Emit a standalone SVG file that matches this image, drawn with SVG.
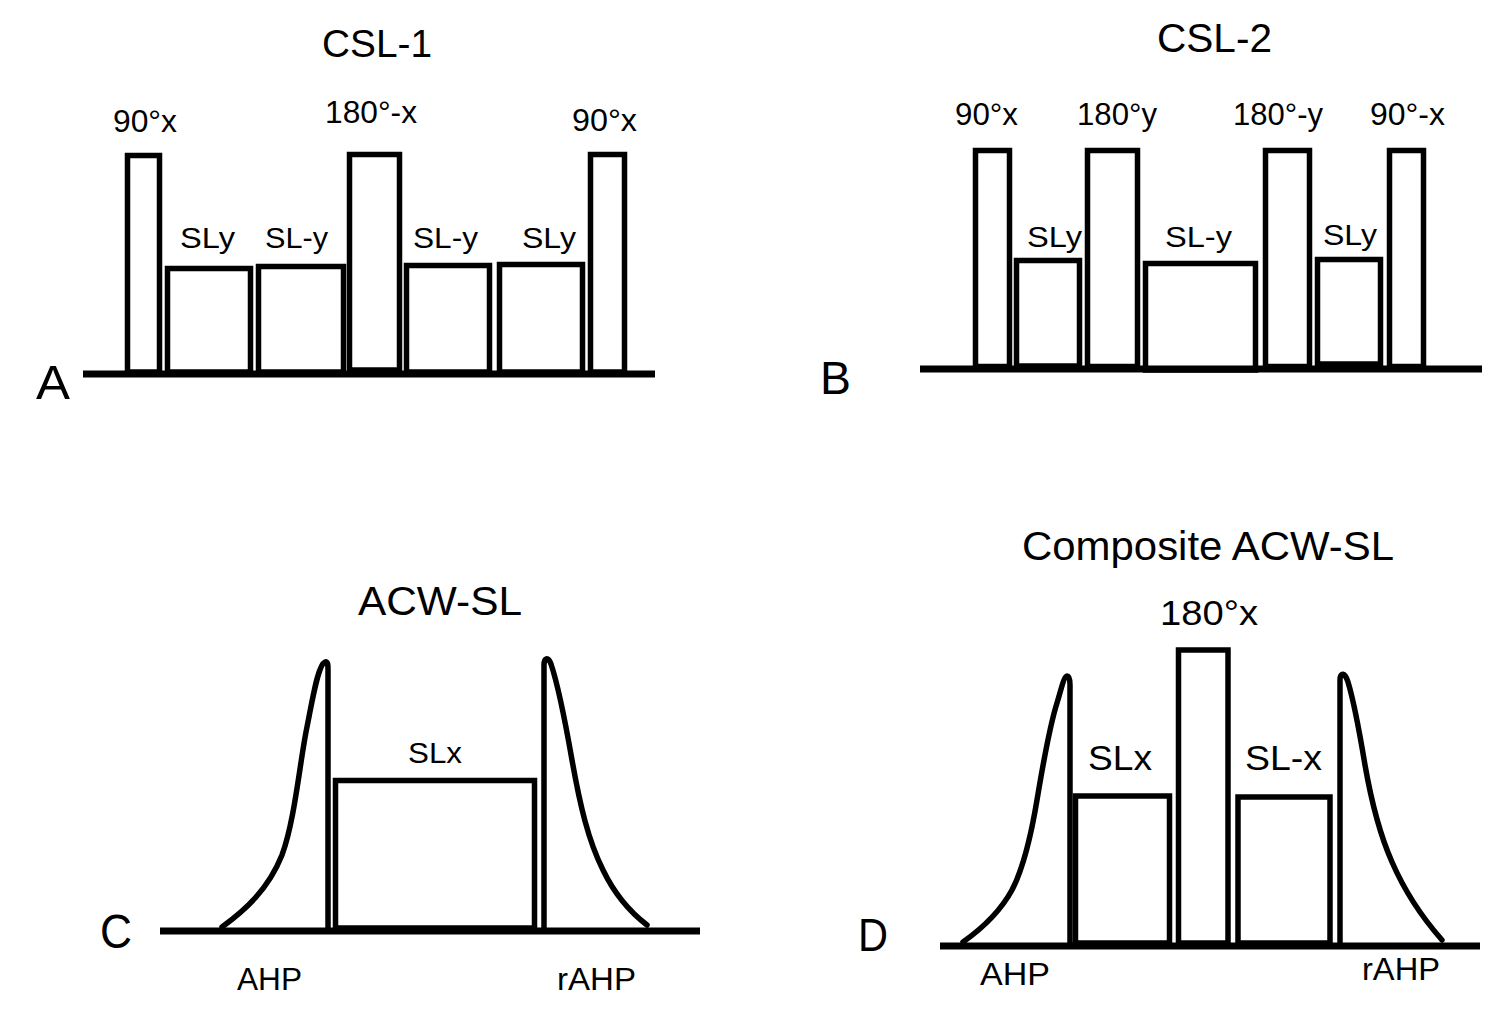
<svg xmlns="http://www.w3.org/2000/svg" width="1501" height="1010" viewBox="0 0 1501 1010">
<style>
.p{fill:none;stroke:#000;stroke-width:5.5;stroke-linejoin:miter}
.c{fill:none;stroke:#000;stroke-width:5.5;stroke-linejoin:round;stroke-linecap:round}
.b{stroke:#000;stroke-width:7;fill:none}
text{font-family:"Liberation Sans",Arial,sans-serif;fill:#000}
</style>
<rect width="1501" height="1010" fill="#fff"/>
<g id="panelA">
<line class="b" x1="83" y1="374" x2="655" y2="374"/>
<rect class="p" x="127.5" y="155.5" width="32" height="216.5"/>
<rect class="p" x="167.5" y="268.5" width="83" height="103.5"/>
<rect class="p" x="258.5" y="266.5" width="85" height="105.5"/>
<rect class="p" x="349.5" y="154.5" width="50" height="215.5"/>
<rect class="p" x="406.5" y="265.5" width="83" height="106.5"/>
<rect class="p" x="499.5" y="264.5" width="83" height="107.5"/>
<rect class="p" x="590.5" y="154.5" width="34" height="217.5"/>
<text x="322" y="57" font-size="39" textLength="110" lengthAdjust="spacingAndGlyphs">CSL-1</text>
<text x="113" y="132" font-size="31" textLength="64" lengthAdjust="spacingAndGlyphs">90°x</text>
<text x="325" y="123" font-size="31" textLength="92" lengthAdjust="spacingAndGlyphs">180°-x</text>
<text x="572" y="131" font-size="31" textLength="65" lengthAdjust="spacingAndGlyphs">90°x</text>
<text x="180" y="248" font-size="30" textLength="55" lengthAdjust="spacingAndGlyphs">SLy</text>
<text x="265" y="248" font-size="30" textLength="63" lengthAdjust="spacingAndGlyphs">SL-y</text>
<text x="413" y="248" font-size="30" textLength="65" lengthAdjust="spacingAndGlyphs">SL-y</text>
<text x="522" y="248" font-size="30" textLength="54" lengthAdjust="spacingAndGlyphs">SLy</text>
<text x="36" y="399" font-size="48" textLength="34" lengthAdjust="spacingAndGlyphs">A</text>
</g>
<g id="panelB">
<line class="b" x1="920" y1="369" x2="1482" y2="369"/>
<rect class="p" x="975.5" y="150.5" width="34" height="216"/>
<rect class="p" x="1016.5" y="260.5" width="63" height="105.5"/>
<rect class="p" x="1087.5" y="150.5" width="50" height="216"/>
<rect class="p" x="1145.5" y="263.5" width="110" height="106.5"/>
<rect class="p" x="1265.5" y="150.5" width="44" height="216"/>
<rect class="p" x="1317.5" y="259.5" width="63" height="104.5"/>
<rect class="p" x="1389.5" y="150.5" width="34" height="216"/>
<text x="1157" y="52" font-size="40" textLength="115" lengthAdjust="spacingAndGlyphs">CSL-2</text>
<text x="955" y="125" font-size="31" textLength="63" lengthAdjust="spacingAndGlyphs">90°x</text>
<text x="1077" y="125" font-size="31" textLength="80" lengthAdjust="spacingAndGlyphs">180°y</text>
<text x="1233" y="125" font-size="31" textLength="90" lengthAdjust="spacingAndGlyphs">180°-y</text>
<text x="1370" y="125" font-size="31" textLength="75" lengthAdjust="spacingAndGlyphs">90°-x</text>
<text x="1027" y="247" font-size="30" textLength="55" lengthAdjust="spacingAndGlyphs">SLy</text>
<text x="1165" y="247" font-size="30" textLength="67" lengthAdjust="spacingAndGlyphs">SL-y</text>
<text x="1323" y="245" font-size="30" textLength="54" lengthAdjust="spacingAndGlyphs">SLy</text>
<text x="820" y="394" font-size="46" textLength="31" lengthAdjust="spacingAndGlyphs">B</text>
</g>
<g id="panelC">
<line class="b" x1="160" y1="931" x2="700" y2="931"/>
<path class="c" d="M222,927 C245,910 268,890 282,855 C295,820 300,760 307,727 C313,697 318,665 325,662 C328,661 328,665 328,670 L328,928"/>
<rect class="p" x="335.5" y="780.5" width="199" height="147.5"/>
<path class="c" d="M544,928 L544,665 C544,658 548,656 551,664 C558,685 565,720 572,760 C580,805 588,840 603,870 C615,895 630,912 647,925"/>
<text x="358" y="615" font-size="40" textLength="164" lengthAdjust="spacingAndGlyphs">ACW-SL</text>
<text x="408" y="763" font-size="30" textLength="54" lengthAdjust="spacingAndGlyphs">SLx</text>
<text x="237" y="990" font-size="31" textLength="65" lengthAdjust="spacingAndGlyphs">AHP</text>
<text x="557" y="990" font-size="31" textLength="79" lengthAdjust="spacingAndGlyphs">rAHP</text>
<text x="100" y="948" font-size="48" textLength="32" lengthAdjust="spacingAndGlyphs">C</text>
</g>
<g id="panelD">
<line class="b" x1="940" y1="946" x2="1480" y2="946"/>
<path class="c" d="M963,942 C980,930 1000,912 1012,890 C1025,865 1032,830 1037,800 C1042,770 1050,725 1057,703 C1061,690 1064,676 1067,676 C1069,676 1070,680 1070,685 L1070,943"/>
<rect class="p" x="1075.5" y="796" width="94" height="147"/>
<rect class="p" x="1178.5" y="650" width="49.5" height="293"/>
<rect class="p" x="1238" y="797" width="92" height="146"/>
<path class="c" d="M1340,943 L1340,680 C1340,672 1345,672 1348,682 C1355,705 1360,735 1365,765 C1372,805 1380,835 1392,862 C1405,892 1420,915 1442,940"/>
<text x="1022" y="560" font-size="41" textLength="372" lengthAdjust="spacingAndGlyphs">Composite ACW-SL</text>
<text x="1160" y="625" font-size="35" textLength="98" lengthAdjust="spacingAndGlyphs">180°x</text>
<text x="1088" y="770" font-size="35" textLength="64" lengthAdjust="spacingAndGlyphs">SLx</text>
<text x="1245" y="770" font-size="35" textLength="77" lengthAdjust="spacingAndGlyphs">SL-x</text>
<text x="980" y="985" font-size="32" textLength="70" lengthAdjust="spacingAndGlyphs">AHP</text>
<text x="1362" y="980" font-size="32" textLength="78" lengthAdjust="spacingAndGlyphs">rAHP</text>
<text x="858" y="951" font-size="46" textLength="30" lengthAdjust="spacingAndGlyphs">D</text>
</g>
</svg>
